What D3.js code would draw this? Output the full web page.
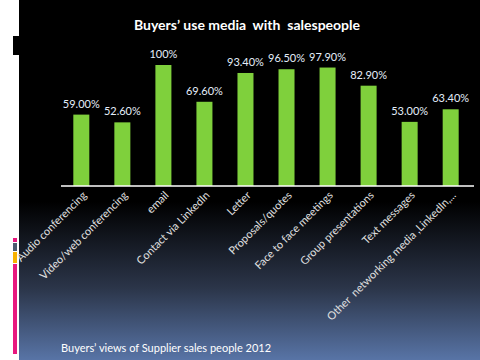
<!DOCTYPE html>
<html lang="en">
<head>
<meta charset="UTF-8">
<title>Buyers' use media with salespeople</title>
<script src="https://cdn.jsdelivr.net/npm/d3@7"></script>
<style>
	body { margin: 0; background: #ffffff; }
	svg { display: block; }
	text { white-space: pre; }
	.title { font-family: Lato, sans-serif; font-weight: bold; font-size: 14px; fill: #ffffff; }
	.val { font-family: Lato, sans-serif; font-size: 11px; fill: #e4eefa; }
	.cat { font-family: Lato, sans-serif; font-size: 11px; fill: #e0e0e0; }
	.foot { font-family: Lato, sans-serif; font-size: 11px; fill: #ffffff; }
</style>
</head>
<body>
<script>
	// chart data
	var categories = ['Audio conferencing', 'Video/web conferencing', 'email', 'Contact via LinkedIn',
		'Letter', 'Proposals/quotes', 'Face to face meetings', 'Group presentations',
		'Text messages', 'Other  networking media ,LinkedIn,...'];
	var values = [59.0, 52.6, 100, 69.6, 93.4, 96.5, 97.9, 82.9, 53.0, 63.4];
	var valueLabels = ['59.00%', '52.60%', '100%', '69.60%', '93.40%', '96.50%', '97.90%', '82.90%', '53.00%', '63.40%'];

	var W = 480, H = 360;
	var panelX = 19;

	var svg = d3.select('body').append('svg')
		.attr('width', W)
		.attr('height', H);

	var grad = svg.append('defs').append('linearGradient')
		.attr('id', 'bg')
		.attr('x1', 0).attr('y1', 0).attr('x2', 0).attr('y2', 1);
	grad.append('stop').attr('offset', '0.56').attr('stop-color', '#000000');
	grad.append('stop').attr('offset', '0.8').attr('stop-color', '#2b3549');
	grad.append('stop').attr('offset', '1').attr('stop-color', '#5874a6');

	// background panel
	svg.append('rect')
		.attr('x', panelX).attr('y', 0)
		.attr('width', W - panelX).attr('height', H)
		.attr('fill', 'url(#bg)');

	// left side decorations
	svg.append('rect').attr('x', 13).attr('y', 36).attr('width', 6).attr('height', 19).attr('fill', '#000000');
	svg.append('rect').attr('x', 13).attr('y', 238).attr('width', 4).attr('height', 4).attr('fill', '#e8187f');
	svg.append('rect').attr('x', 13).attr('y', 243).attr('width', 4).attr('height', 8).attr('fill', '#4b5a6e');
	svg.append('rect').attr('x', 13).attr('y', 252).attr('width', 4).attr('height', 11).attr('fill', '#f8b200');
	svg.append('rect').attr('x', 13).attr('y', 264).attr('width', 4).attr('height', 90).attr('fill', '#e8187f');

	var margin = {left: 61, right: 9};
	var x = d3.scaleBand()
		.domain(categories)
		.range([margin.left, W - margin.right])
		.paddingInner(0.61)
		.paddingOuter(0.3);

	var y = d3.scaleLinear()
		.domain([0, 100])
		.range([186, 65]);

	svg.append('text')
		.attr('class', 'title')
		.attr('x', 247)
		.attr('y', 30)
		.attr('text-anchor', 'middle')
		.text('Buyers\u2019 use media  with  salespeople');

	svg.selectAll('.bar')
		.data(values)
		.enter()
		.append('rect')
		.attr('class', 'bar')
		.attr('x', function(d, i) { return x(categories[i]); })
		.attr('y', function(d) { return y(d); })
		.attr('width', x.bandwidth())
		.attr('height', function(d) { return y(0) - y(d); })
		.attr('fill', '#7fd03c');

	svg.selectAll('.val')
		.data(values)
		.enter()
		.append('text')
		.attr('class', 'val')
		.attr('x', function(d, i) { return x(categories[i]) + x.bandwidth() / 2; })
		.attr('y', function(d) { return y(d) - 7; })
		.attr('text-anchor', 'middle')
		.text(function(d, i) { return valueLabels[i]; });

	// axis line
	svg.append('line')
		.attr('x1', margin.left).attr('x2', 474)
		.attr('y1', 186).attr('y2', 186)
		.attr('stroke', '#ffffff')
		.attr('stroke-width', 1.5);

	svg.selectAll('.cat')
		.data(categories)
		.enter()
		.append('text')
		.attr('class', 'cat')
		.attr('text-anchor', 'end')
		.attr('transform', function(d) {
			var cx = x(d) + x.bandwidth() / 2 + 6;
			return 'translate(' + cx + ',196) rotate(-45)';
		})
		.text(function(d) { return d; });

	svg.append('text')
		.attr('class', 'foot')
		.attr('x', 61)
		.attr('y', 352)
		.text('Buyers\u2019 views of Supplier sales people 2012');
</script>
</body>
</html>
